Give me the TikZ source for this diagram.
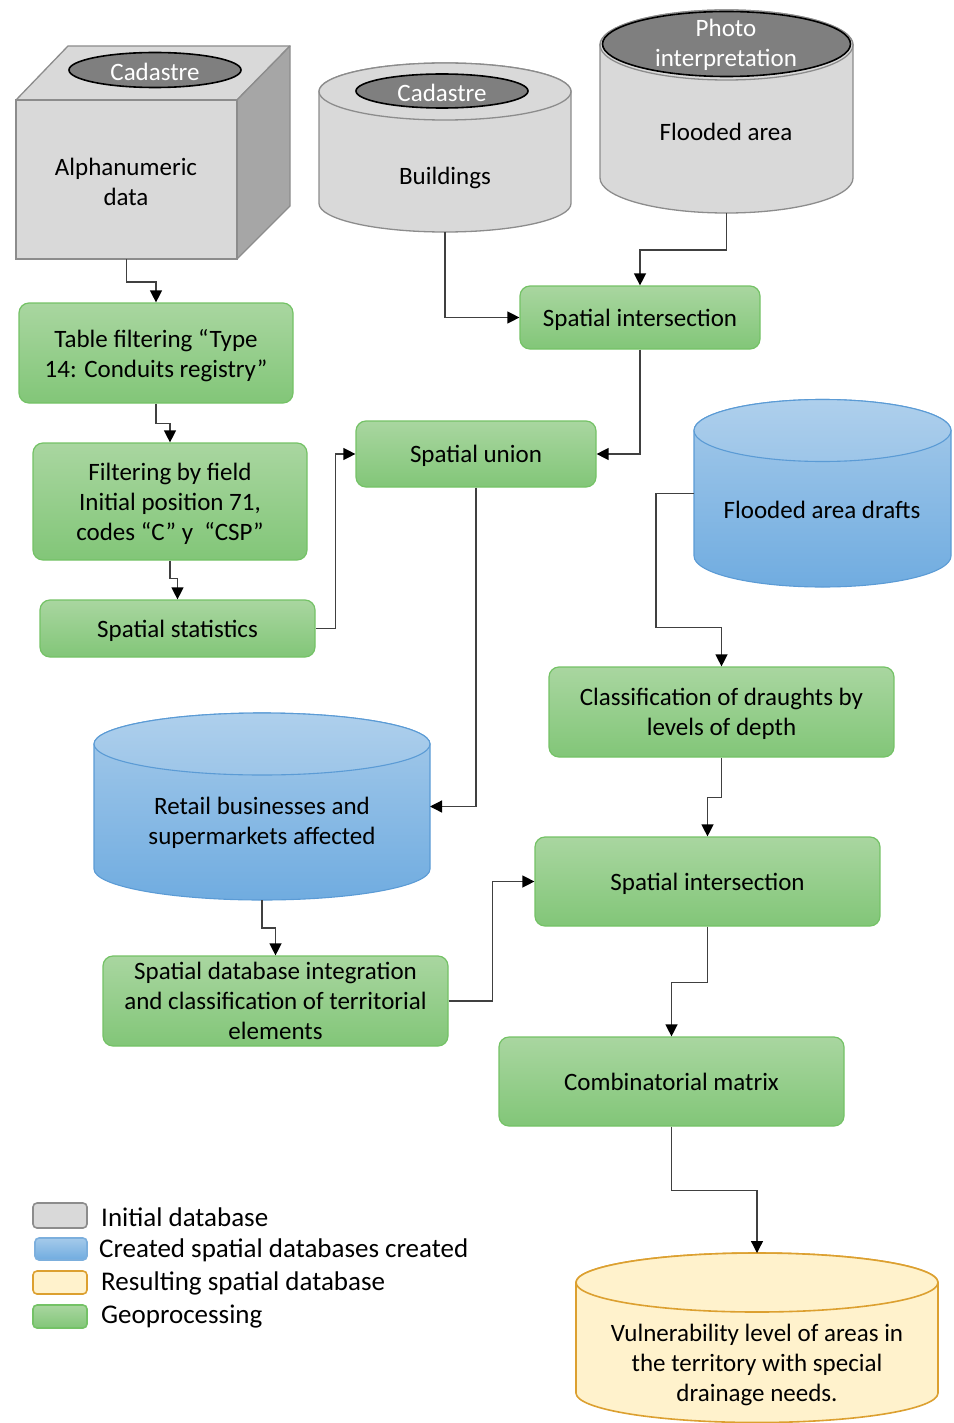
\documentclass[tikz,border=0pt]{standalone}
\usepackage{fontspec}
\setmainfont{Carlito}
\usetikzlibrary{arrows.meta}
\definecolor{gfill}{HTML}{D9D9D9}
\definecolor{gline}{HTML}{8C8C8C}
\definecolor{gdark}{HTML}{A6A6A6}
\definecolor{dkell}{HTML}{7F7F7F}
\definecolor{gtop}{HTML}{A9D6A0}
\definecolor{gbot}{HTML}{82C678}
\definecolor{gborder}{HTML}{74C266}
\definecolor{btop}{HTML}{A5CAEA}
\definecolor{bbot}{HTML}{70ACE0}
\definecolor{bborder}{HTML}{5B9BD5}
\definecolor{yfill}{HTML}{FFF2CC}
\definecolor{yborder}{HTML}{DCA030}
\definecolor{conncol}{HTML}{404040}
\newcommand{\dfont}{\fontsize{25}{30}\selectfont}
\newcommand{\lfont}{\fontsize{27}{32}\selectfont}
% cylinder: cx, rx, top-ellipse cy, bottom-ellipse cy, ry, body style, top style
\newcommand{\dbcyl}[7]{%
  \path[#6] ({#1-#2},{-#3}) -- ({#1-#2},{-#4})
     arc[start angle=180,end angle=360,x radius=#2,y radius=#5]
     -- ({#1+#2},{-#3})
     arc[start angle=0,end angle=180,x radius=#2,y radius=#5] -- cycle;
  \path[#7] (#1,{-#3}) ellipse[x radius=#2, y radius=#5];
}
\begin{document}
\begin{tikzpicture}[x=1pt,y=1pt,
  geo/.style={draw=gborder, line width=1.2pt, rounded corners=10pt,
    top color=gtop, bottom color=gbot, align=center, inner sep=0pt, font=\dfont,
    text depth=0pt},
  txt/.style={align=center, inner sep=0pt, font=\dfont, yshift=-2pt},
  anchorbox/.style={inner sep=0pt, outer sep=0pt, draw=none},
  conn/.style={draw=conncol, line width=1.3pt,
    -{Triangle[length=12pt,width=12pt,color=black]}},
  grayshape/.style={fill=gfill, draw=gline, line width=1.3pt},
  darkell/.style={fill=dkell, draw=black, line width=1.6pt},
  bluebody/.style={top color=btop, bottom color=bbot, draw=bborder, line width=1.1pt},
  bluetop/.style={top color=btop!90!white, bottom color=btop!85!bbot, draw=bborder, line width=1.1pt},
  yellowshape/.style={fill=yfill, draw=yborder, line width=1.6pt},
  legbox/.style={rounded corners=4pt, line width=1.6pt}
]
\useasboundingbox (0,0) rectangle (953,-1423);
\clip (0,0) rectangle (953,-1423);

% ---------- Cube (alphanumeric data) ----------
\path[fill=gfill, draw=gline, line width=1.3pt, line join=round]
  (16,-100) -- (68,-46) -- (290,-46) -- (237,-100) -- cycle;
\path[fill=gdark, draw=gline, line width=1.3pt, line join=round]
  (237,-100) -- (290,-46) -- (290,-206) -- (237,-259) -- cycle;
\node[anchorbox, grayshape, minimum width=221pt, minimum height=159pt] (cube) at (126.5,-179.5) {};
\path[darkell] (155,-70) ellipse[x radius=86, y radius=17.5];
\node[txt, text=white] (cubecad) at (155,-70) {Cadastre};
\node[txt] (cubetxt) at (126,-180) {Alphanumeric\\data};

% ---------- Buildings cylinder ----------
\dbcyl{445}{126}{91.5}{203.5}{28.5}{grayshape}{grayshape}
\node[anchorbox, minimum width=252pt, minimum height=169pt] (bld) at (445,-147.5) {};
\path[darkell] (442,-91) ellipse[x radius=86, y radius=17];
\node[txt, text=white] (bldcad) at (442,-91) {Cadastre};
\node[txt] (bldtxt) at (445,-176) {Buildings};

% ---------- Flooded area cylinder ----------
\dbcyl{726.5}{126.5}{45}{178}{35}{grayshape}{grayshape}
\path[darkell] (726.5,-44) ellipse[x radius=124, y radius=32.5];
\node[anchorbox, minimum width=253pt, minimum height=203pt] (flood) at (726.5,-111.5) {};
\node[txt, text=white] (photo) at (726,-43) {Photo\\interpretation};
\node[txt] (floodtxt) at (726,-130) {Flooded area};

% ---------- Flooded area drafts ----------
\dbcyl{822.5}{128.5}{430.5}{556}{31}{bluebody}{bluetop}
\node[anchorbox, minimum width=257pt, minimum height=187.5pt] (drafts) at (822.5,-493.25) {};
\node[txt] (draftstxt) at (822,-508) {Flooded area drafts};

% ---------- Retail cylinder ----------
\dbcyl{262}{168}{744}{869}{31}{bluebody}{bluetop}
\node[anchorbox, minimum width=336pt, minimum height=187pt] (retail) at (262,-806.5) {};
\node[txt] (retailtxt) at (262,-821) {Retail businesses and\\supermarkets affected};

% ---------- Vulnerability cylinder ----------
\dbcyl{757}{181}{1282.5}{1393}{29.5}{yellowshape}{yellowshape}
\node[anchorbox, minimum width=362pt, minimum height=170pt] (vuln) at (757,-1338) {};
\node[txt] (vulntxt) at (757,-1363) {Vulnerability level of areas in\\the territory with special\\drainage needs.};

% ---------- Geoprocessing boxes ----------
\node[geo, minimum width=274pt, minimum height=100pt] (tf) at (156,-353)
  {Table filtering “Type\\14: Conduits registry”};
\node[geo, minimum width=274pt, minimum height=117pt] (ff) at (170,-501.5)
  {Filtering by field\\Initial position 71,\\codes “C” y~ “CSP”};
\node[geo, minimum width=275pt, minimum height=57pt] (ss) at (177.5,-628.5)
  {Spatial statistics};
\node[geo, minimum width=240pt, minimum height=63pt] (si1) at (640,-317.5)
  {Spatial intersection};
\node[geo, minimum width=240pt, minimum height=66pt] (su) at (476,-454)
  {Spatial union};
\node[geo, minimum width=345pt, minimum height=90pt] (cl) at (721.5,-712)
  {Classification of draughts by\\levels of depth};
\node[geo, minimum width=345pt, minimum height=89pt] (si2) at (707.5,-881.5)
  {Spatial intersection};
\node[geo, minimum width=345pt, minimum height=89pt] (cm) at (671.5,-1081.5)
  {Combinatorial matrix};
\node[geo, minimum width=345pt, minimum height=90pt] (sdi) at (275.5,-1001)
  {Spatial database integration\\and classification of territorial\\elements};

% ---------- Connectors ----------
\draw[conn] (cube.south) -- ++(0,-23) -| (tf.north);
\draw[conn] (bld.south) |- (si1.west);
\draw[conn] (flood.south) -- ++(0,-37) -| (si1.north);
\draw[conn] (si1.south) |- (su.east);
\draw[conn] (tf.south) -- ++(0,-20) -| (ff.north);
\draw[conn] (ff.south) -- ++(0,-18) -| (ss.north);
\draw[conn] (ss.east) -- ++(20,0) |- (su.west);
\draw[conn] (su.south) |- (retail.east);
\draw[conn] (drafts.west) -- ++(-38,0) -- ++(0,-134) -| (cl.north);
\draw[conn] (cl.south) -- ++(0,-40) -| (si2.north);
\draw[conn] (retail.south) -- ++(0,-28) -| (sdi.north);
\draw[conn] (sdi.east) -- ++(44,0) |- (si2.west);
\draw[conn] (si2.south) -- ++(0,-56) -| (cm.north);
\draw[conn] (cm.south) -- ++(0,-64) -| (vuln.north);

% ---------- Legend ----------
\path[legbox, fill=gfill, draw=gline] (33,-1203) rectangle (87,-1228);
\path[legbox, top color=btop, bottom color=bbot, draw=bborder!80!white] (35,-1238) rectangle (87,-1260);
\path[legbox, fill=yfill, draw=yborder] (33,-1271) rectangle (87,-1294);
\path[legbox, top color=gtop, bottom color=gbot, draw=gborder] (33,-1305) rectangle (87,-1328);
\node[anchor=west, inner sep=0pt, font=\lfont] (leg1) at (101,-1217) {Initial database};
\node[anchor=west, inner sep=0pt, font=\lfont] (leg2) at (99,-1250) {Created spatial databases created};
\node[anchor=west, inner sep=0pt, font=\lfont] (leg3) at (101,-1283) {Resulting spatial database};
\node[anchor=west, inner sep=0pt, font=\lfont] (leg4) at (101,-1317) {Geoprocessing};
\end{tikzpicture}
\end{document}
